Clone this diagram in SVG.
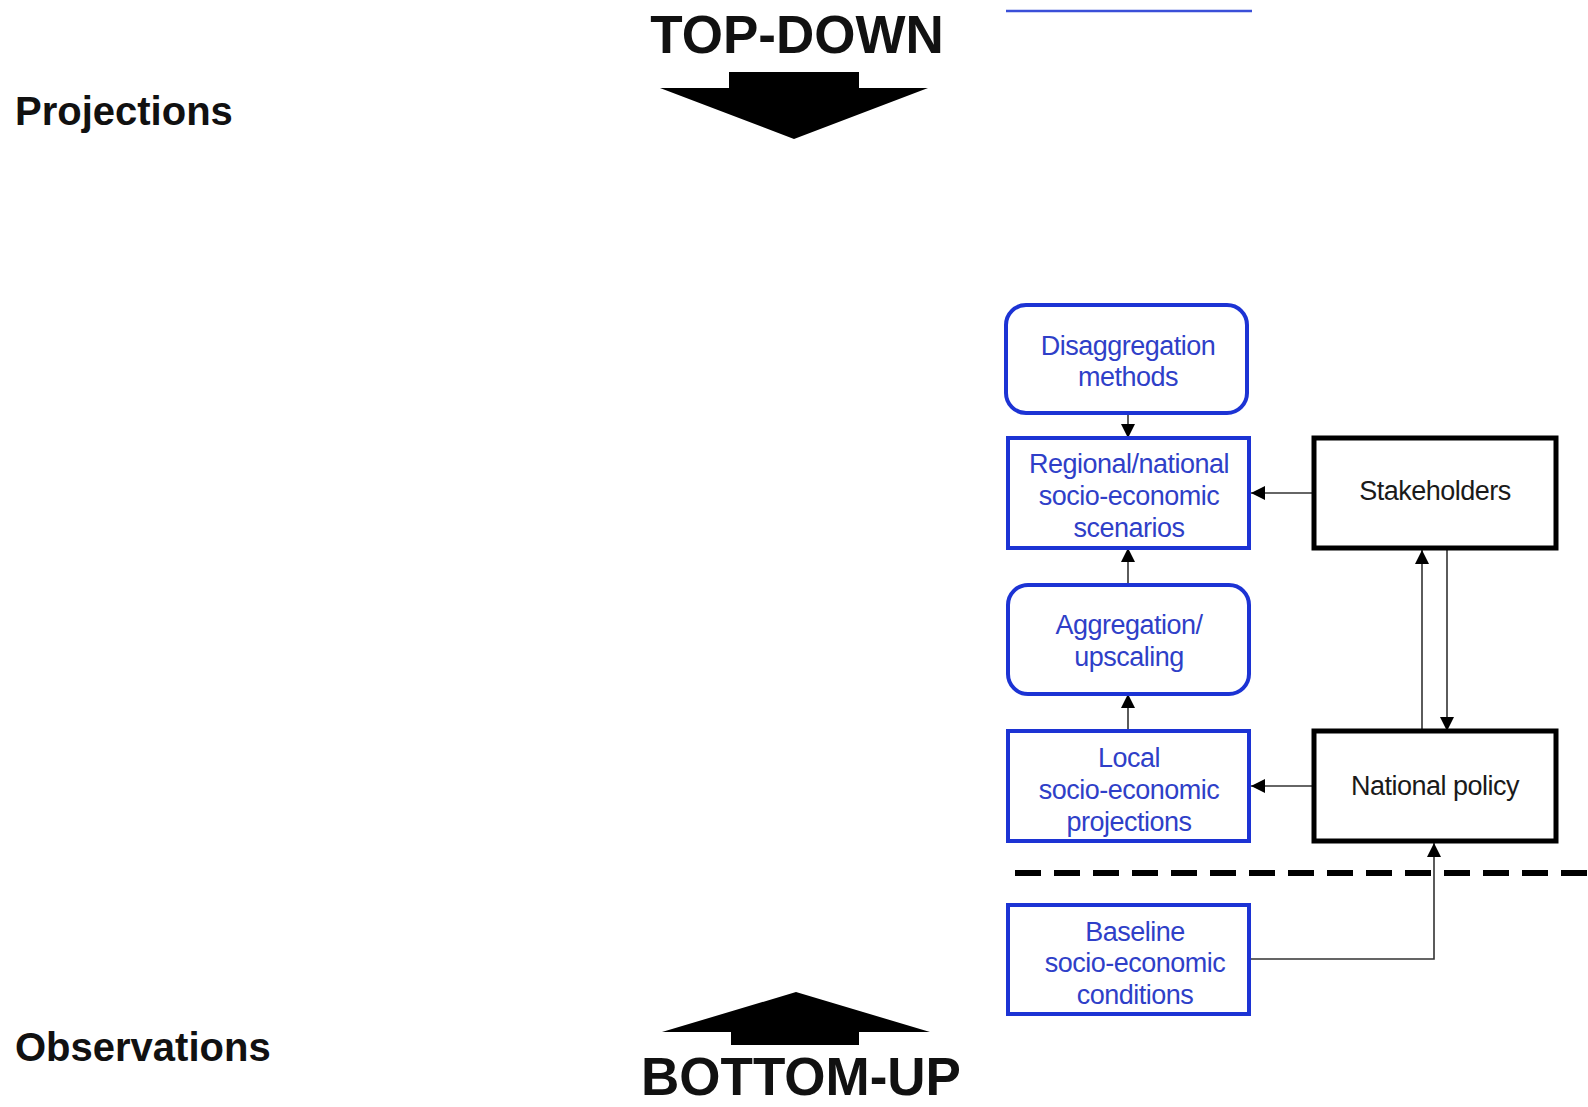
<svg xmlns="http://www.w3.org/2000/svg" width="1588" height="1107" viewBox="0 0 1588 1107">
<style>
.big{font-family:"Liberation Sans",Arial,sans-serif;font-weight:bold;fill:#111;}
.side{font-family:"Liberation Sans",Arial,sans-serif;font-weight:bold;font-size:40px;fill:#111;}
.bt{font-family:"Liberation Sans",Arial,sans-serif;font-size:27px;fill:#2f3fc8;text-anchor:middle;letter-spacing:-0.5px;}
.kt{font-family:"Liberation Sans",Arial,sans-serif;font-size:27px;fill:#1a1a1a;text-anchor:middle;letter-spacing:-0.5px;}
.bbox{fill:#fff;stroke:#1c33d4;stroke-width:4;}
.kbox{fill:#fff;stroke:#000;stroke-width:5;}
.con{fill:none;stroke:#333;stroke-width:1.6;}
</style>
<defs>
<marker id="ah" viewBox="0 0 10 10" refX="10" refY="5" markerWidth="14" markerHeight="14" markerUnits="userSpaceOnUse" orient="auto">
<path d="M0,0 L10,5 L0,10 z" fill="#000"/>
</marker>
</defs>
<rect width="1588" height="1107" fill="#fff"/>

<g id="labels">
<text class="side" x="15" y="125">Projections</text>
<text class="side" x="15" y="1061">Observations</text>
<text class="big" x="797" y="53" font-size="53" text-anchor="middle">TOP-DOWN</text>
<text class="big" x="801" y="1095" font-size="53" text-anchor="middle">BOTTOM-UP</text>
</g>

<g id="top-arrow">
<polygon points="729,72 859,72 859,88 928,88 794,139 660,88 729,88" fill="#000"/>
</g>
<g id="bottom-arrow">
<polygon points="796,992 930,1032 859,1032 859,1045 731,1045 731,1032 662,1032" fill="#000"/>
</g>

<g id="top-line">
<line x1="1006" y1="11" x2="1252" y2="11" stroke="#3a4fd8" stroke-width="2.5"/>
</g>

<g id="divider">
<line x1="1015" y1="873" x2="1588" y2="873" stroke="#000" stroke-width="6" stroke-dasharray="26,13"/>
</g>

<g id="connectors">
<line class="con" x1="1128" y1="413" x2="1128" y2="438" marker-end="url(#ah)"/>
<line class="con" x1="1128" y1="585" x2="1128" y2="548" marker-end="url(#ah)"/>
<line class="con" x1="1128" y1="731" x2="1128" y2="694" marker-end="url(#ah)"/>
<line class="con" x1="1314" y1="493" x2="1251" y2="493" marker-end="url(#ah)"/>
<line class="con" x1="1314" y1="786" x2="1251" y2="786" marker-end="url(#ah)"/>
<line class="con" x1="1422" y1="731" x2="1422" y2="550" marker-end="url(#ah)"/>
<line class="con" x1="1447" y1="550" x2="1447" y2="731" marker-end="url(#ah)"/>
<polyline class="con" points="1249,959 1434,959 1434,843" marker-end="url(#ah)"/>
</g>

<g id="disaggregation">
<rect class="bbox" x="1006" y="305" width="241" height="108" rx="20"/>
<text class="bt" x="1128" y="355">Disaggregation</text>
<text class="bt" x="1128" y="386">methods</text>
</g>

<g id="regional">
<rect class="bbox" x="1008" y="438" width="241" height="110"/>
<text class="bt" x="1129" y="473">Regional/national</text>
<text class="bt" x="1129" y="505">socio-economic</text>
<text class="bt" x="1129" y="537">scenarios</text>
</g>

<g id="aggregation">
<rect class="bbox" x="1008" y="585" width="241" height="109" rx="20"/>
<text class="bt" x="1129" y="634">Aggregation/</text>
<text class="bt" x="1129" y="666">upscaling</text>
</g>

<g id="local">
<rect class="bbox" x="1008" y="731" width="241" height="110"/>
<text class="bt" x="1129" y="767">Local</text>
<text class="bt" x="1129" y="799">socio-economic</text>
<text class="bt" x="1129" y="831">projections</text>
</g>

<g id="baseline">
<rect class="bbox" x="1008" y="905" width="241" height="109"/>
<text class="bt" x="1135" y="941">Baseline</text>
<text class="bt" x="1135" y="972">socio-economic</text>
<text class="bt" x="1135" y="1004">conditions</text>
</g>

<g id="stakeholders">
<rect class="kbox" x="1314" y="438" width="242" height="110"/>
<text class="kt" x="1435" y="500">Stakeholders</text>
</g>

<g id="national-policy">
<rect class="kbox" x="1314" y="731" width="242" height="110"/>
<text class="kt" x="1435" y="795">National policy</text>
</g>
</svg>
